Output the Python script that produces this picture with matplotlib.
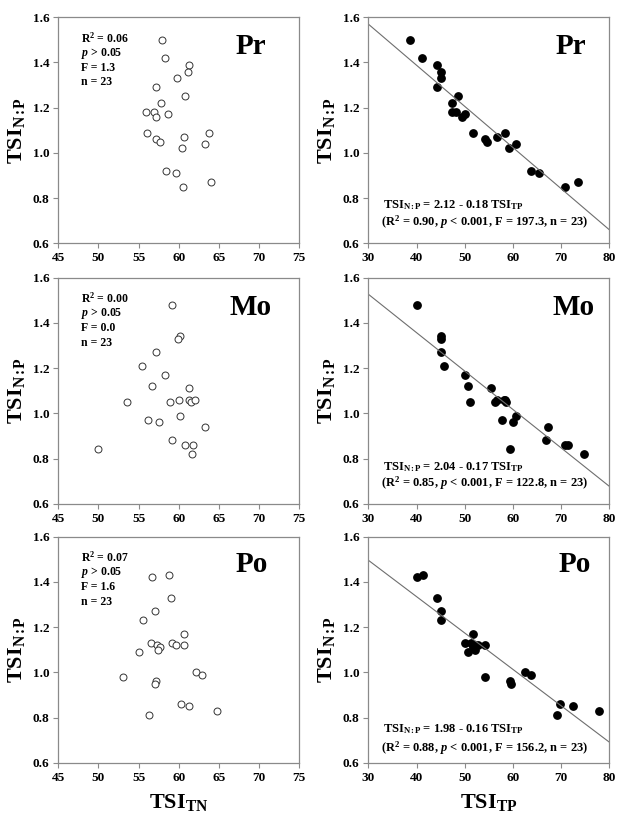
import numpy as np
import matplotlib
matplotlib.use("Agg")
import matplotlib.pyplot as plt

plt.rcParams['font.family'] = ['Liberation Serif', 'DejaVu Serif']
plt.rcParams['font.weight'] = 'bold'
plt.rcParams['mathtext.fontset'] = 'custom'
plt.rcParams['mathtext.rm'] = 'Liberation Serif:bold'
plt.rcParams['mathtext.bf'] = 'Liberation Serif:bold'
plt.rcParams['mathtext.it'] = 'Liberation Serif:italic:bold'
plt.rcParams['mathtext.bfit'] = 'Liberation Serif:italic:bold'

# ---- data ----
sites = ["Pr", "Mo", "Po"]

# TSI N:P (same y for both columns of a row)
np_pr = [1.50, 1.42, 1.39, 1.36, 1.33, 1.29, 1.25, 1.22, 1.18, 1.18, 1.16, 1.17,
         1.09, 1.06, 1.05, 1.07, 1.09, 1.02, 1.04, 0.92, 0.91, 0.85, 0.87]
np_mo = [1.48, 1.34, 1.33, 1.27, 1.21, 1.17, 1.12, 1.11, 1.05, 1.05, 1.06, 1.06,
         1.05, 1.06, 0.99, 0.97, 0.96, 0.94, 0.88, 0.86, 0.86, 0.82, 0.84]
np_po = [1.42, 1.43, 1.33, 1.27, 1.23, 1.17, 1.13, 1.13, 1.12, 1.12, 1.12, 1.11,
         1.10, 1.09, 1.00, 0.99, 0.98, 0.96, 0.95, 0.86, 0.85, 0.83, 0.81]

# TSI TN (left column)
tn_pr = [57.9, 58.3, 61.3, 61.1, 59.8, 57.2, 60.8, 57.8, 55.9, 56.9, 57.2, 58.6,
         56.1, 57.2, 57.6, 60.7, 63.8, 60.4, 63.3, 58.4, 59.6, 60.5, 64.0]
tn_mo = [59.1, 60.2, 59.9, 57.1, 55.4, 58.3, 56.7, 61.3, 53.6, 58.9, 60.0, 61.3,
         61.5, 62.0, 60.1, 56.2, 57.5, 63.2, 59.1, 60.8, 61.8, 61.7, 50.0]
tn_po = [56.7, 58.8, 59.0, 57.0, 55.5, 60.6, 56.5, 59.1, 57.3, 59.6, 60.6, 57.6,
         57.4, 55.0, 62.1, 62.9, 53.0, 57.1, 57.0, 60.3, 61.3, 64.8, 56.3]

# TSI TP (right column)
tp_pr = [38.7, 41.2, 44.2, 45.1, 45.0, 44.2, 48.7, 47.4, 47.4, 48.1, 49.5, 50.0,
         51.7, 54.2, 54.6, 56.6, 58.4, 59.1, 60.6, 63.8, 65.5, 70.9, 73.5]
tp_mo = [40.0, 45.0, 45.0, 45.0, 45.8, 50.0, 50.6, 55.4, 51.2, 56.2, 56.7, 58.1,
         58.6, 58.4, 60.6, 57.7, 60.0, 67.3, 66.8, 70.9, 71.5, 74.8, 59.4]
tp_po = [40.0, 41.3, 44.2, 45.0, 45.0, 51.7, 50.0, 51.3, 52.2, 52.8, 54.2, 51.8,
         52.1, 50.6, 62.5, 63.7, 54.3, 59.4, 59.7, 69.8, 72.5, 77.9, 69.2]

# regression lines drawn in right column (y = a + b * TP)
fit_a = [2.116, 2.037, 1.979]
fit_b = [-0.0182, -0.0170, -0.0161]

left_stats = [
    ["R$^{\\mathbf{2}}$ = 0.06", "$\\mathbfit{p}$ > 0.05", "F = 1.3", "n = 23"],
    ["R$^{\\mathbf{2}}$ = 0.00", "$\\mathbfit{p}$ > 0.05", "F = 0.0", "n = 23"],
    ["R$^{\\mathbf{2}}$ = 0.07", "$\\mathbfit{p}$ > 0.05", "F = 1.6", "n = 23"],
]
sub_np = "$_{\\mathbf{N}{:}\\!\\mathbf{P}}$"
sub_tp = "$_{\\mathbf{TP}}$"
sub_tn = "$_{\\mathbf{TN}}$"
eq_lines = [
    "TSI" + sub_np + " = 2.12 - 0.18 TSI" + sub_tp,
    "TSI" + sub_np + " = 2.04 - 0.17 TSI" + sub_tp,
    "TSI" + sub_np + " = 1.98 - 0.16 TSI" + sub_tp,
]
eq_stats = [
    "(R$^{\\mathbf{2}}$ = 0.90, $\\mathbfit{p}$ < 0.001, F = 197.3, n = 23)",
    "(R$^{\\mathbf{2}}$ = 0.85, $\\mathbfit{p}$ < 0.001, F = 122.8, n = 23)",
    "(R$^{\\mathbf{2}}$ = 0.88, $\\mathbfit{p}$ < 0.001, F = 156.2, n = 23)",
]

ynp = [np_pr, np_mo, np_po]
xtn = [tn_pr, tn_mo, tn_po]
xtp = [tp_pr, tp_mo, tp_po]

W, H = 621, 815
fig = plt.figure(figsize=(W / 100, H / 100), dpi=100)

col_left = [58.3, 368.3]
ax_w = 241
row_top = [17.3, 277.7, 536.7]
ax_h = 226

frame_col = '#8a8a8a'

# per panel text positions (axes fraction)
name_left_pos = [(0.864, 0.87), (0.885, 0.87), (0.871, 0.875)]
name_right_pos = [(0.906, 0.873), (0.94, 0.87), (0.924, 0.875)]
eq_pos = [(0.059, 0.17, 0.092), (0.059, 0.163, 0.089), (0.059, 0.15, 0.062)]


def style_ax(ax):
    for s in ax.spines.values():
        s.set_color(frame_col)
        s.set_linewidth(0.9)
    ax.tick_params(direction='out', length=3.5, width=0.8, color=frame_col,
                   labelsize=9.5, pad=3)


for r in range(3):
    for c in range(2):
        x0 = col_left[c] / W
        y0 = 1 - (row_top[r] + ax_h) / H
        ax = fig.add_axes([x0, y0, ax_w / W, ax_h / H])
        y = ynp[r]
        if c == 0:
            ax.plot(xtn[r], y, 'o', ms=5, mfc='white', mec='#333333', mew=0.7)
            ax.set_xlim(45, 75)
            xt = np.arange(45, 76, 5)
            for k, line in enumerate(left_stats[r]):
                ax.text(0.094, 0.907 - k * 0.065, line, transform=ax.transAxes,
                        fontsize=8.5, fontweight='bold', va='center', ha='left')
            nx, ny = name_left_pos[r]
        else:
            ax.plot(xtp[r], y, 'o', ms=5.3, mfc='black', mec='black')
            xx = np.array([30.0, 80.0])
            ax.plot(xx, fit_a[r] + fit_b[r] * xx, '-', color='#6e6e6e', lw=0.8)
            ax.set_xlim(30, 80)
            xt = np.arange(30, 81, 10)
            ex, ey1, ey2 = eq_pos[r]
            ax.text(ex, ey1, eq_lines[r], transform=ax.transAxes, fontsize=9,
                    fontweight='bold', va='center', ha='left')
            ax.text(ex - 0.006, ey2, eq_stats[r], transform=ax.transAxes,
                    fontsize=9, fontweight='bold', va='center', ha='left')
            nx, ny = name_right_pos[r]
        ax.set_xticks(xt, labels=['%d' % v for v in xt], fontweight='bold')
        ax.text(nx, ny, sites[r], transform=ax.transAxes, fontsize=21,
                fontweight='bold', ha='right', va='center')
        ax.set_ylim(0.6, 1.6)
        yt = np.arange(0.6, 1.61, 0.2)
        ax.set_yticks(yt, labels=['%.1f' % v for v in yt], fontweight='bold')
        ax.set_ylabel('TSI' + sub_np, fontsize=16, fontweight='bold', labelpad=4)
        if r == 2:
            ax.set_xlabel('TSI' + (sub_tn if c == 0 else sub_tp),
                          fontsize=16, fontweight='bold', labelpad=6)
        style_ax(ax)

fig.savefig('out.png', dpi=100)
